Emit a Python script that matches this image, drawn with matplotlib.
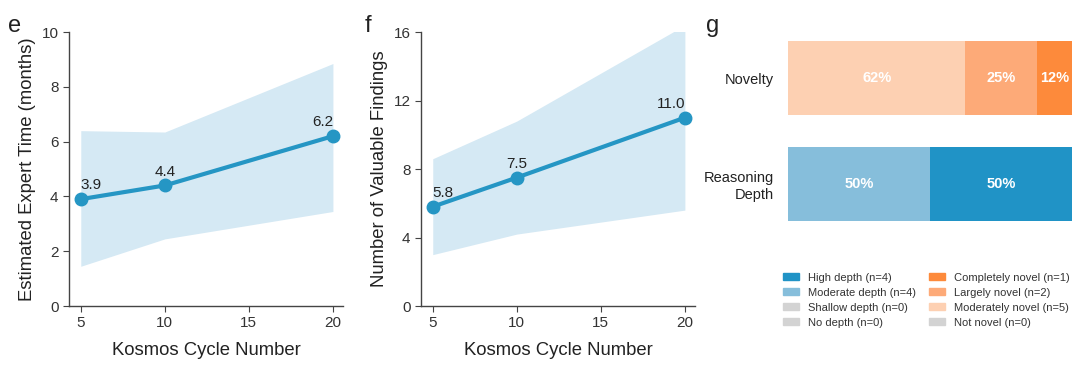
import numpy as np
import matplotlib.pyplot as plt
from matplotlib.patches import Patch

plt.rcParams['font.family'] = ['Liberation Sans', 'DejaVu Sans']

# panel e / f data
cycles = [5, 10, 20]
expert_time = [3.9, 4.4, 6.2]
expert_lo = [1.45, 2.45, 3.45]
expert_hi = [6.4, 6.35, 8.85]

findings = [5.8, 7.5, 11.0]
findings_lo = [3.0, 4.2, 5.6]
findings_hi = [8.6, 10.8, 16.4]

# panel g data
depth_labels = ['High depth', 'Moderate depth', 'Shallow depth', 'No depth']
depth_counts = [4, 4, 0, 0]
novelty_labels = ['Completely novel', 'Largely novel', 'Moderately novel', 'Not novel']
novelty_counts = [1, 2, 5, 0]

LINE = '#2596c4'
BAND = '#d5e9f4'
depth_colors = ['#2093c6', '#86bedb', '#d3d3d3', '#d3d3d3']
novelty_colors = ['#fd8a3b', '#fdaa78', '#fdd0b2', '#d3d3d3']
TXT = '#222222'
SPINE = '#444444'

fig = plt.figure(figsize=(10.8, 3.65), dpi=100)


def line_panel(ax, y, lo, hi, ylim, yticks, ylabel):
    ax.fill_between(cycles, lo, hi, color=BAND, lw=0)
    ax.plot(cycles, y, color=LINE, lw=3, marker='o', ms=9, zorder=3)
    has = ['left', 'center', 'right']
    for x, v, ha in zip(cycles, y, has):
        ax.annotate(f'{v:.1f}', (x, v), xytext=(0, 5), textcoords='offset points',
                    ha=ha, va='bottom', fontsize=11, color=TXT)
    ax.set_xlim(4.3, 20.6)
    ax.set_ylim(*ylim)
    ax.set_xticks([5, 10, 15, 20])
    ax.set_yticks(yticks)
    ax.set_xlabel('Kosmos Cycle Number', fontsize=13.3, color=TXT, labelpad=8)
    ax.set_ylabel(ylabel, fontsize=13.3, color=TXT, labelpad=4)
    for s in ['top', 'right']:
        ax.spines[s].set_visible(False)
    for s in ['left', 'bottom']:
        ax.spines[s].set_color(SPINE)
        ax.spines[s].set_linewidth(1.0)
    ax.tick_params(labelsize=11, colors=SPINE, labelcolor='#333333', length=4)


ax_e = fig.add_axes([0.0639, 0.1616, 0.2537, 0.7507])
line_panel(ax_e, expert_time, expert_lo, expert_hi, (0, 10), [0, 2, 4, 6, 8, 10],
           'Estimated Expert Time (months)')

ax_f = fig.add_axes([0.3898, 0.1616, 0.2537, 0.7507])
line_panel(ax_f, findings, findings_lo, findings_hi, (0, 16), [0, 4, 8, 12, 16],
           'Number of Valuable Findings')

# stacked bars
ax_g = fig.add_axes([0.7296, 0.3507, 0.263, 0.5808])
rows = [('Novelty', 1, novelty_counts[::-1], novelty_colors[::-1]),
        ('Reasoning\nDepth', 0, depth_counts[::-1], depth_colors[::-1])]
for name, ypos, counts, colors in rows:
    total = sum(counts)
    left = 0
    for c, col in zip(counts, colors):
        pct = 100 * c / total
        if pct == 0:
            continue
        ax_g.barh(ypos, pct, left=left, height=0.7, color=col, lw=0)
        ax_g.text(left + pct / 2, ypos, f'{pct:.0f}%', ha='center', va='center',
                  color='white', fontsize=10.5, fontweight='bold')
        left += pct
ax_g.set_xlim(0, 100)
ax_g.set_ylim(-0.5, 1.5)
ax_g.set_yticks([1, 0])
ax_g.set_yticklabels([r[0] for r in rows], fontsize=10.5, color=TXT)
ax_g.set_xticks([])
ax_g.tick_params(axis='y', length=0, pad=10)
for s in ax_g.spines.values():
    s.set_visible(False)

handles = [Patch(color=c, label=f'{l} (n={n})')
           for l, n, c in zip(depth_labels, depth_counts, depth_colors)]
handles += [Patch(color=c, label=f'{l} (n={n})')
            for l, n, c in zip(novelty_labels, novelty_counts, novelty_colors)]
fig.legend(handles=handles, ncol=2, loc='upper left', bbox_to_anchor=(0.716, 0.28),
           frameon=False, fontsize=8, handlelength=1.45, handleheight=0.6,
           handletextpad=0.8, columnspacing=1.1, labelspacing=0.45,
           labelcolor='#333333')

fig.text(0.007, 0.96, 'e', fontsize=17, color=TXT, va='top')
fig.text(0.338, 0.96, 'f', fontsize=17, color=TXT, va='top')
fig.text(0.654, 0.96, 'g', fontsize=17, color=TXT, va='top')

fig.savefig('out.png', dpi=100)
